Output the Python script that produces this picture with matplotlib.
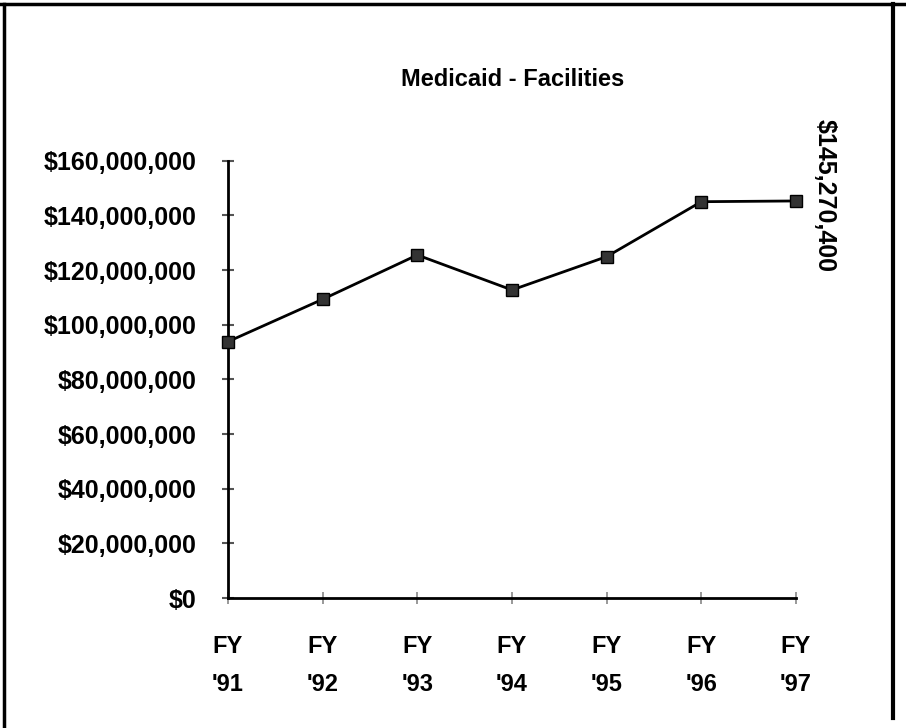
import matplotlib
matplotlib.use("Agg")
import matplotlib.pyplot as plt
from matplotlib.lines import Line2D

plt.rcParams['font.family'] = ['Liberation Sans', 'DejaVu Sans']

categories = ["FY\n'91", "FY\n'92", "FY\n'93", "FY\n'94", "FY\n'95", "FY\n'96", "FY\n'97"]
values = [93800000, 109300000, 125500000, 112700000, 124900000, 145000000, 145270400]
yticks = [0, 20000000, 40000000, 60000000, 80000000, 100000000, 120000000, 140000000, 160000000]
title = "Medicaid - Facilities"
last_label = "$145,270,400"

W, H = 906, 728
fig = plt.figure(figsize=(W / 100, H / 100), dpi=100)
fig.patch.set_facecolor('white')

left, right = 228 / W, 796 / W
bottom, top = 1 - 598 / H, 1 - 160.7 / H
ax = fig.add_axes([left, bottom, right - left, top - bottom])
ax.set_facecolor('none')

x = list(range(len(values)))
ax.plot(x, values, color='black', lw=2, marker='s', markersize=8,
        markerfacecolor='#333333', markeredgecolor='black', clip_on=False, zorder=5)

ax.set_xlim(0, len(values) - 1)
ax.set_ylim(0, 160000000)
ax.set_yticks(yticks)
ax.set_yticklabels(["${:,.0f}".format(v) for v in yticks], fontsize=18, fontweight='bold')
ax.set_xticks(x)
ax.set_xticklabels(categories, fontsize=17, fontweight='bold', linespacing=1.85)

for s in ['top', 'right']:
    ax.spines[s].set_visible(False)
for s in ['left', 'bottom']:
    ax.spines[s].set_linewidth(2)
    ax.spines[s].set_color('black')

ax.tick_params(axis='y', direction='inout', length=9, width=1.5, color='#555555', pad=18)
ax.tick_params(axis='x', direction='inout', length=9, width=1.2, color='#888888', pad=22)

ax.annotate(last_label, xy=(x[-1], values[-1]), xytext=(21, 4), textcoords='offset points',
            rotation=270, ha='center', va='center', fontsize=18, fontweight='bold')

fig.text(0.566, 1 - 80 / H, title, ha='center', va='center', fontsize=17, fontweight='bold')

# frame lines
fig.add_artist(Line2D([0, 1], [1 - 4 / H, 1 - 4 / H], transform=fig.transFigure, color='black', lw=2.5))
fig.add_artist(Line2D([4 / W, 4 / W], [0, 1 - 4 / H], transform=fig.transFigure, color='black', lw=2.5))
fig.add_artist(Line2D([893 / W, 893 / W], [1 - 718 / H, 1 - 4 / H], transform=fig.transFigure, color='black', lw=3))

fig.savefig('out.png', dpi=100, facecolor='white')
